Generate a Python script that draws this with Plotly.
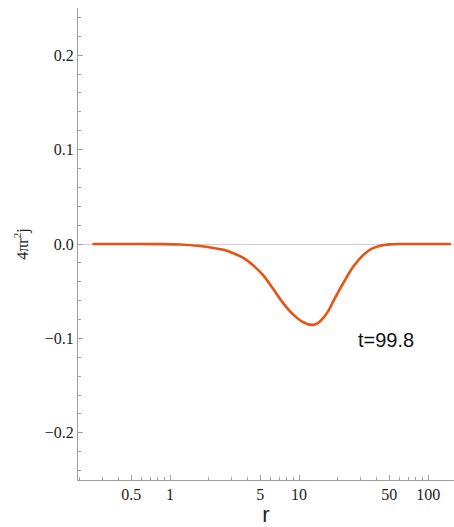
import math
import plotly.graph_objects as go

# Radial profile of 4*pi*r^2*j at t = 99.8
r = [0.25, 0.5, 0.8, 1.2, 1.7, 2.17, 2.6, 3.1, 3.7, 4.4, 5.3, 6.3, 7.5, 9.0,
     10.8, 12.6, 14.0, 15.4, 16.9, 18.4, 22.0, 26.4, 31.5, 36.6, 42.5, 50.7,
     60.0, 80.0, 100.0, 150.0]
j = [0.0, 0.0, -0.0001, -0.0005, -0.0022, -0.0042, -0.0062, -0.0098, -0.0148,
     -0.0226, -0.0335, -0.0476, -0.0624, -0.0748, -0.0829, -0.0857, -0.0837,
     -0.0783, -0.0705, -0.0606, -0.0413, -0.0236, -0.0115, -0.0050, -0.0018,
     -0.0004, 0.0, 0.0, 0.0, 0.0]

x_major = [0.5, 1, 5, 10, 50, 100]
x_minor = [0.2, 0.3, 0.4, 0.6, 0.7, 0.8, 0.9, 2, 3, 4, 6, 7, 8, 9,
           20, 30, 40, 60, 70, 80, 90, 200]
y_major = [-0.2, -0.1, 0.0, 0.1, 0.2]
y_minor = [-0.24, -0.22, -0.18, -0.16, -0.14, -0.12, -0.08, -0.06, -0.04, -0.02,
           0.02, 0.04, 0.06, 0.08, 0.12, 0.14, 0.16, 0.18, 0.22, 0.24]

label = "t=99.8"
label_r, label_j = 47.2, -0.1016

axis_col = "#a0a0a0"
serif = "Liberation Serif, Times New Roman, serif"
sans = "Liberation Sans, Arial, sans-serif"
tick_font = dict(family=serif, size=16, color="#222")

fig = go.Figure()
fig.add_trace(go.Scatter(
    x=r, y=j, mode="lines",
    line=dict(color="#E65414", width=2.6, shape="spline", smoothing=0.9),
    showlegend=False, hoverinfo="skip",
))

fig.add_annotation(
    x=math.log10(label_r), y=label_j, xref="x", yref="y", text=label, showarrow=False,
    font=dict(family=sans, size=20, color="#111"),
)

fig.update_xaxes(
    type="log", range=[-0.713, 2.2],
    tickmode="array", tickvals=x_major, ticktext=[str(v) for v in x_major],
    ticks="inside", ticklen=5, tickcolor=axis_col, tickwidth=1,
    minor=dict(tickmode="array", tickvals=x_minor, ticks="inside", ticklen=3,
               tickcolor=axis_col, showgrid=False),
    showline=True, linecolor=axis_col, linewidth=1, mirror=False,
    showgrid=False, zeroline=False,
    tickfont=tick_font,
    title=dict(text="r", font=dict(family=sans, size=22, color="#222"), standoff=8),
)
fig.update_yaxes(
    range=[-0.25, 0.25],
    tickmode="array", tickvals=y_major, tickformat=".1f",
    ticks="inside", ticklen=5, tickcolor=axis_col, tickwidth=1,
    minor=dict(tickmode="array", tickvals=y_minor, ticks="inside", ticklen=3,
               tickcolor=axis_col, showgrid=False),
    showline=True, linecolor=axis_col, linewidth=1, mirror=False,
    showgrid=False, zeroline=True, zerolinecolor="#d0d0d0", zerolinewidth=1,
    tickfont=tick_font,
    title=dict(text="4πr<sup>2</sup>j", font=dict(family=serif, size=16, color="#222"),
               standoff=12),
)

fig.update_layout(
    width=454, height=527,
    margin=dict(l=78, r=0, t=8, b=47),
    paper_bgcolor="white", plot_bgcolor="white",
)

fig.write_html("out.html")
